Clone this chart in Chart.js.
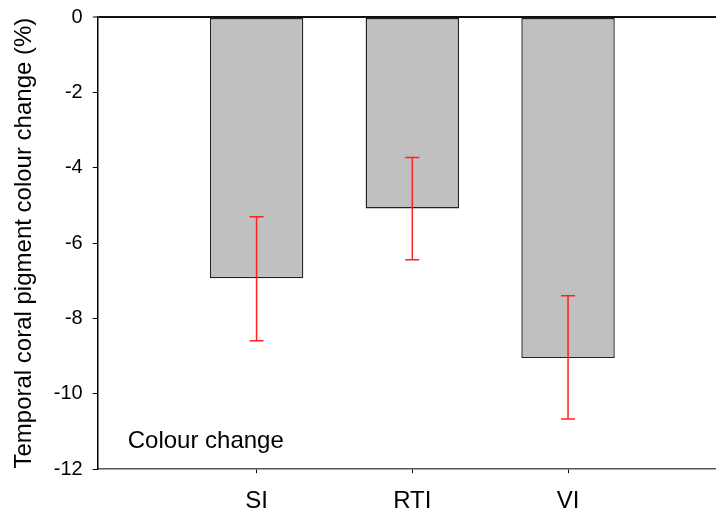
<!DOCTYPE html>
<html>
<head>
<meta charset="utf-8">
<script src="https://cdn.jsdelivr.net/npm/chart.js@4/dist/chart.umd.min.js"></script>
<style>
  html, body { margin: 0; padding: 0; background: #fff; }
  #wrap { width: 716px; height: 516px; }
</style>
</head>
<body>
<div id="wrap"><canvas id="c" width="716" height="516"></canvas></div>
<script>
const categories = ['SI', 'RTI', 'VI'];
const positions = [1, 2, 3];
const means = [-6.93, -5.08, -9.05];
const errUpper = [-5.30, -3.73, -7.40];
const errLower = [-8.59, -6.44, -10.67];
const yTicks = [0, -2, -4, -6, -8, -10, -12];
const panelLabel = 'Colour change';
const yTitle = 'Temporal coral pigment colour change (%)';

const FONT = "'Liberation Sans', Arial, sans-serif";

const errorBars = {
  id: 'errorBars',
  afterDatasetsDraw(chart) {
    const xs = chart.scales.x, ys = chart.scales.y, ctx = chart.ctx;
    ctx.save();
    ctx.strokeStyle = '#ff2020';
    ctx.lineWidth = 1.5;
    for (let i = 0; i < positions.length; i++) {
      const x = xs.getPixelForValue(positions[i]);
      const y1 = ys.getPixelForValue(errUpper[i]);
      const y2 = ys.getPixelForValue(errLower[i]);
      ctx.beginPath();
      ctx.moveTo(x, y1); ctx.lineTo(x, y2);
      ctx.moveTo(x - 7, y1); ctx.lineTo(x + 7, y1);
      ctx.moveTo(x - 7, y2); ctx.lineTo(x + 7, y2);
      ctx.stroke();
    }
    ctx.restore();
  }
};

const panelText = {
  id: 'panelText',
  afterDraw(chart) {
    const a = chart.chartArea, ctx = chart.ctx;
    ctx.save();
    ctx.fillStyle = '#000';
    ctx.font = '24px ' + FONT;
    ctx.textBaseline = 'alphabetic';
    ctx.textAlign = 'left';
    ctx.fillText(panelLabel, a.left + 30, a.bottom - 21);
    ctx.restore();
  }
};

new Chart(document.getElementById('c'), {
  type: 'bar',
  data: {
    datasets: [{
      data: positions.map((p, i) => ({ x: p, y: means[i] })),
      backgroundColor: '#c0c0c0',
      borderColor: '#222',
      borderWidth: 1.4,
      borderSkipped: false,
      barPercentage: 0.6,
      categoryPercentage: 1.0
    }]
  },
  options: {
    responsive: false,
    animation: false,
    layout: { padding: { top: 2, right: 0, left: 10, bottom: -14 } },
    plugins: { legend: { display: false }, tooltip: { enabled: false } },
    scales: {
      x: {
        type: 'linear',
        offset: false,
        min: -0.02,
        max: 3.95,
        afterBuildTicks(scale) { scale.ticks = positions.map(v => ({ value: v })); },
        ticks: {
          callback: (v) => categories[positions.indexOf(v)] ?? '',
          font: { family: FONT, size: 24 },
          color: '#000',
          padding: 14,
          maxRotation: 0,
          autoSkip: false
        },
        grid: { offset: false, drawOnChartArea: false, tickLength: 4, tickColor: '#000', tickWidth: 1 },
        border: { color: '#555', width: 1.5 }
      },
      y: {
        min: -12,
        max: 0,
        afterBuildTicks(scale) { scale.ticks = yTicks.map(v => ({ value: v })); },
        ticks: {
          font: { family: FONT, size: 20, lineHeight: 0.7 },
          color: '#000',
          padding: 10
        },
        grid: {
          color: (c) => (c.tick && c.tick.value === 0) ? '#111' : 'rgba(0,0,0,0)',
          lineWidth: (c) => (c.tick && c.tick.value === 0) ? 2 : 1,
          tickLength: 5,
          tickColor: '#000',
          tickWidth: 1
        },
        border: { color: '#000', width: 1.5 },
        title: {
          display: true,
          text: yTitle,
          font: { family: FONT, size: 24 },
          color: '#000',
          padding: { top: 0, bottom: 5 }
        }
      }
    }
  },
  plugins: [errorBars, panelText]
});
</script>
</body>
</html>
